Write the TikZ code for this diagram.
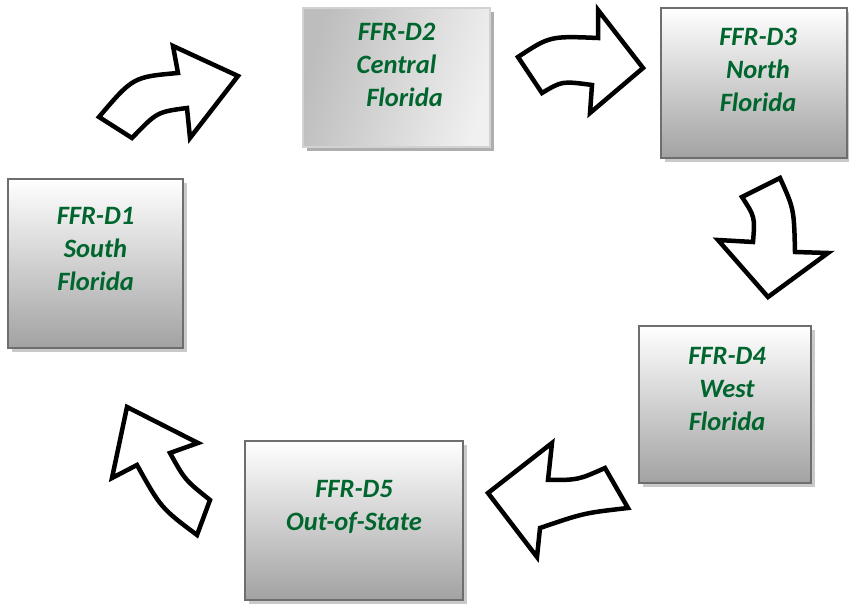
\documentclass[tikz,border=0pt]{standalone}
\usepackage{fontspec}
\setmainfont{Carlito}
\usetikzlibrary{positioning, shadows}
\definecolor{ffrgreen}{HTML}{00662E}
\definecolor{boxline}{HTML}{6E6E6E}
\definecolor{boxlow}{HTML}{A2A2A2}

\begin{document}
\begin{tikzpicture}[
  x=1pt, y=1pt,
  box/.style={draw=boxline, line width=2.5pt, top color=white, bottom color=boxlow,
              inner sep=0pt,
              drop shadow={shadow xshift=4pt, shadow yshift=-4pt, fill=black!30, opacity=0.7}},
  flatbox/.style={draw=gray!35, line width=2pt, left color=gray!52, right color=gray!12,
              shading angle=75, inner sep=0pt,
              drop shadow={shadow xshift=4pt, shadow yshift=-4pt, fill=black!45, opacity=0.7}},
  lbl/.style={font=\bfseries\itshape\fontsize{26.5}{33}\selectfont, text=ffrgreen, align=center},
  bigarrow/.style={draw=black, fill=white, line width=4.5pt, line join=miter},
]
  \useasboundingbox (0,0) rectangle (849,604);
  % District boxes
  \node[box, minimum width=175pt, minimum height=169pt] (d1) at (95.5,340.5) {};
  \node[flatbox, minimum width=187pt, minimum height=139pt] (d2) at (396.5,526.5) {};
  \node[box, minimum width=186pt, minimum height=150pt] (d3) at (754,521) {};
  \node[box, minimum width=172pt, minimum height=157pt] (d4) at (725,199.5) {};
  \node[box, minimum width=218pt, minimum height=159pt] (d5) at (354,83.5) {};
  % Labels
  \node[lbl] (t1) at ([yshift=14pt]d1.center) {FFR-D1\\South\\Florida};
  \node[lbl] (t2) at ([yshift=12.5pt]d2.center) {FFR-D2\\Central\\\hspace*{16pt}Florida};
  \node[lbl] (t3) at ([xshift=4pt, yshift=13.5pt]d3.center) {FFR-D3\\North\\Florida};
  \node[lbl] (t4) at ([xshift=2pt, yshift=15pt]d4.center) {FFR-D4\\West\\Florida};
  \node[lbl] (t5) at ([yshift=13.5pt]d5.center) {FFR-D5\\Out-of-State};
  % Block arrows round the cycle
  % D1 -> D2
  \draw[bigarrow] (99,487) .. controls (133,527) .. (178,531) -- (173,558) -- (238,528)
    -- (190,466) -- (187,496) .. controls (157,492) .. (132,466) -- cycle;
  % D2 -> D3
  \draw[bigarrow] (518,547) .. controls (550,568) .. (598,566) -- (598,594) -- (643,536)
    -- (590,491) -- (592,519) .. controls (562,523) .. (542,511) -- cycle;
  % D3 -> D4
  \draw[bigarrow] (753,362) .. controls (755,387) .. (742,407) -- (780,426)
    .. controls (794,395) .. (795,352) -- (828,351) -- (768,307) -- (718,364) -- cycle;
  % D4 -> D5
  \draw[bigarrow] (548,124) .. controls (578,124) .. (605,136) -- (628,96)
    .. controls (584,91) .. (540,76) -- (537,47) -- (488,111) -- (552,161) -- cycle;
  % D5 -> D1
  \draw[bigarrow] (127,197) -- (198,161) -- (170,151) .. controls (185,124) .. (210,104)
    -- (197,69) .. controls (161,96) .. (137,139) -- (112,126) -- cycle;
\end{tikzpicture}
\end{document}
